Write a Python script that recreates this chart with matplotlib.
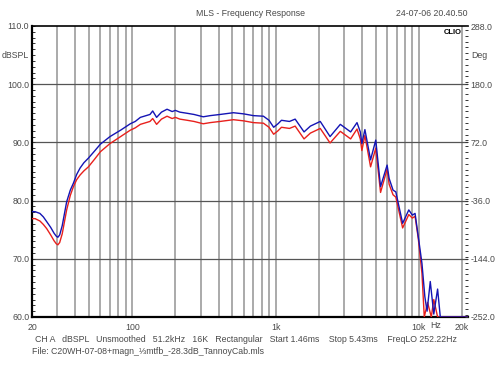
import matplotlib
matplotlib.use("Agg")
import matplotlib.pyplot as plt
from matplotlib.ticker import FixedLocator, MultipleLocator, NullLocator

plt.rcParams['font.family'] = ['Liberation Sans', 'DejaVu Sans']

# ---------------- data ----------------
blue_freq = [20, 21, 22.7, 24, 25.3, 27, 28.5, 29.5, 30.3, 31.2, 32.5, 34.9, 37, 38.9, 41, 43.3,
             46, 49.5, 55, 60, 70, 83, 97,
             105, 114, 125, 133, 139, 148, 160, 175, 190, 200, 215, 242, 270, 313, 350,
             410, 508, 600, 700, 823, 900, 970, 1040, 1100, 1250, 1370, 1580, 1750, 2050,
             2400, 2830, 3340, 3700, 3900, 4000, 4200, 4600, 5000, 5400, 6000, 6200, 6600,
             6900, 7700, 8500, 9000, 9400, 9900, 10500, 11000, 11400, 12000, 12700, 13500,
             14100, 22000]
blue_db = [78.1, 78.1, 77.8, 77.2, 76.4, 75.4, 74.4, 73.9, 73.7, 74.1, 75.7, 79.8, 81.8, 83.0,
           84.5, 85.6, 86.5, 87.3, 88.6, 89.7, 91.0,
           92.1, 93.2, 93.6, 94.3, 94.6, 94.8, 95.4, 94.3, 95.2, 95.7, 95.3, 95.5, 95.2, 95.0,
           94.8, 94.4, 94.6, 94.8, 95.1, 94.9, 94.6, 94.5, 93.8, 92.6, 93.2, 93.8, 93.6, 94.0,
           91.8, 92.8, 93.6, 91.0, 93.1, 91.8, 93.4, 91.8, 89.8, 92.2, 87.0, 90.4, 82.4, 86.1,
           83.8, 81.8, 81.5, 76.1, 78.4, 77.5, 77.8, 73.8, 69.2, 63.5, 61.0, 66.1, 60.5, 64.8,
           60.0, 60.0]

red_freq = [20, 21, 22.7, 24, 25.3, 27, 28.5, 29.5, 30.3, 31.2, 32.5, 34.9, 37, 38.9, 41, 43.3,
            46, 49.5, 55, 60, 70, 83, 97,
            105, 114, 125, 133, 139, 148, 160, 175, 190, 200, 215, 242, 270, 313, 350,
            410, 508, 600, 700, 823, 900, 970, 1040, 1100, 1250, 1370, 1580, 1750, 2050,
            2400, 2830, 3340, 3700, 3900, 4000, 4200, 4600, 5000, 5400, 6000, 6200, 6600,
            6900, 7700, 8500, 9000, 9400, 9900, 10500, 10900, 11500, 12200, 12700, 13500,
            22000]
red_db = [76.9, 76.9, 76.5, 75.9, 75.2, 74.1, 73.1, 72.6, 72.4, 72.8, 74.3, 78.4, 80.9, 82.4,
          83.6, 84.4, 85.1, 85.8, 87.2, 88.4, 89.8,
          91.0, 92.1, 92.5, 93.1, 93.4, 93.6, 94.1, 93.1, 94.0, 94.5, 94.1, 94.3, 94.0, 93.8,
          93.6, 93.2, 93.4, 93.6, 93.9, 93.7, 93.4, 93.3, 92.6, 91.4, 92.0, 92.6, 92.4, 92.8,
          90.6, 91.6, 92.4, 89.9, 91.9, 90.6, 92.3, 90.6, 88.6, 91.2, 85.8, 89.0, 81.4, 85.4,
          82.8, 81.0, 80.6, 75.3, 77.6, 77.0, 77.3, 73.5, 67.5, 60.0, 62.5, 60.0, 63.0, 60.0,
          60.0]

x_tick_vals = [20, 100, 1000, 10000, 20000]
x_tick_labels = ["20", "100", "1k", "10k", "20k"]
grid_freqs = ([30, 40, 50, 60, 70, 80, 90, 100] + [200, 300, 400, 500, 600, 700, 800, 900, 1000]
              + [2000, 3000, 4000, 5000, 6000, 7000, 8000, 9000, 10000, 20000])
left_ticks = [60, 70, 80, 90, 100, 110]
left_labels = ["60.0", "70.0", "80.0", "90.0", "100.0", "110.0"]
right_ticks = [-252, -144, -36, 72, 180, 288]
right_labels = ["-252.0", "-144.0", "-36.0", "72.0", "180.0", "288.0"]
hgrid = [70, 80, 90, 100]

title = "MLS - Frequency Response"
stamp = "24-07-06 20.40.50"
info = "CH A   dBSPL   Unsmoothed   51.2kHz   16K   Rectangular   Start 1.46ms    Stop 5.43ms    FreqLO 252.22Hz"
file_line = "File: C20WH-07-08+magn_\u2153mtfb_-28.3dB_TannoyCab.mls"

# ---------------- figure ----------------
W, H = 500, 375
fig = plt.figure(figsize=(W / 100, H / 100), dpi=100)
L, R, T, B = 32, 468, 26, 317
ax = fig.add_axes([L / W, 1 - B / H, (R - L) / W, (B - T) / H])
ax.set_xscale('log')
ax.set_xlim(20, 22000)
ax.set_ylim(60, 110)

txt_col = '#4a4a4a'
fs = 6.3

for f in grid_freqs:
    ax.axvline(f, color='#a4a4a4', lw=1.3, zorder=1)
for h in hgrid:
    ax.axhline(h, color='#555555', lw=0.9, zorder=1)

ax.plot(red_freq, red_db, color='#e8201c', lw=1.0, zorder=3)
ax.plot(blue_freq, blue_db, color='#1414b4', lw=1.0, zorder=4)

ax.xaxis.set_major_locator(FixedLocator(x_tick_vals))
ax.xaxis.set_minor_locator(NullLocator())
ax.set_xticklabels(x_tick_labels)
ax.tick_params(axis='x', which='both', length=0, pad=4, labelsize=fs, labelcolor=txt_col)

ax.yaxis.set_major_locator(FixedLocator(left_ticks))
ax.set_yticklabels(left_labels)
ax.yaxis.set_minor_locator(MultipleLocator(1))
ax.tick_params(axis='y', which='both', direction='in', length=2.2, width=0.7, color='#333333',
               labelsize=fs, labelcolor=txt_col, pad=2)

for s in ['left', 'bottom']:
    ax.spines[s].set_linewidth(1.6)
ax.spines['top'].set_linewidth(1.2)
ax.spines['right'].set_visible(False)

ax2 = ax.twinx()
ax2.set_ylim(-252, 288)
ax2.yaxis.set_major_locator(FixedLocator(right_ticks))
ax2.set_yticklabels(right_labels)
ax2.yaxis.set_minor_locator(MultipleLocator(10.8))
ax2.tick_params(axis='y', which='both', direction='in', length=2.2, width=0.7, color='#333333',
                labelsize=fs, labelcolor=txt_col, pad=2)
for s in ['left', 'bottom', 'top', 'right']:
    ax2.spines[s].set_visible(False)

ax.text(-0.008, 105, "dBSPL", transform=ax.get_yaxis_transform(), ha='right', va='center',
        fontsize=fs, color=txt_col)
ax.text(1.008, 105, "Deg", transform=ax.get_yaxis_transform(), ha='left', va='center',
        fontsize=fs, color=txt_col)
ax.annotate("Hz", xy=(13100, 60), xycoords='data', xytext=(0, -2.9), textcoords='offset points',
            ha='center', va='top', fontsize=fs, color=txt_col)

fig.text(250 / W, 1 - 14 / H, title, ha='center', va='center', fontsize=fs, color=txt_col)
fig.text(468 / W, 1 - 14 / H, stamp, ha='right', va='center', fontsize=fs, color=txt_col)
fig.text(462 / W, 1 - 32 / H, "CLIO", ha='right', va='center', fontsize=5.5,
         fontweight='bold', color='black')
fig.text(246 / W, 1 - 339 / H, info, ha='center', va='center', fontsize=fs, color=txt_col)
fig.text(32 / W, 1 - 352 / H, file_line, ha='left', va='center', fontsize=fs, color=txt_col)

fig.savefig("out.png", dpi=100)
